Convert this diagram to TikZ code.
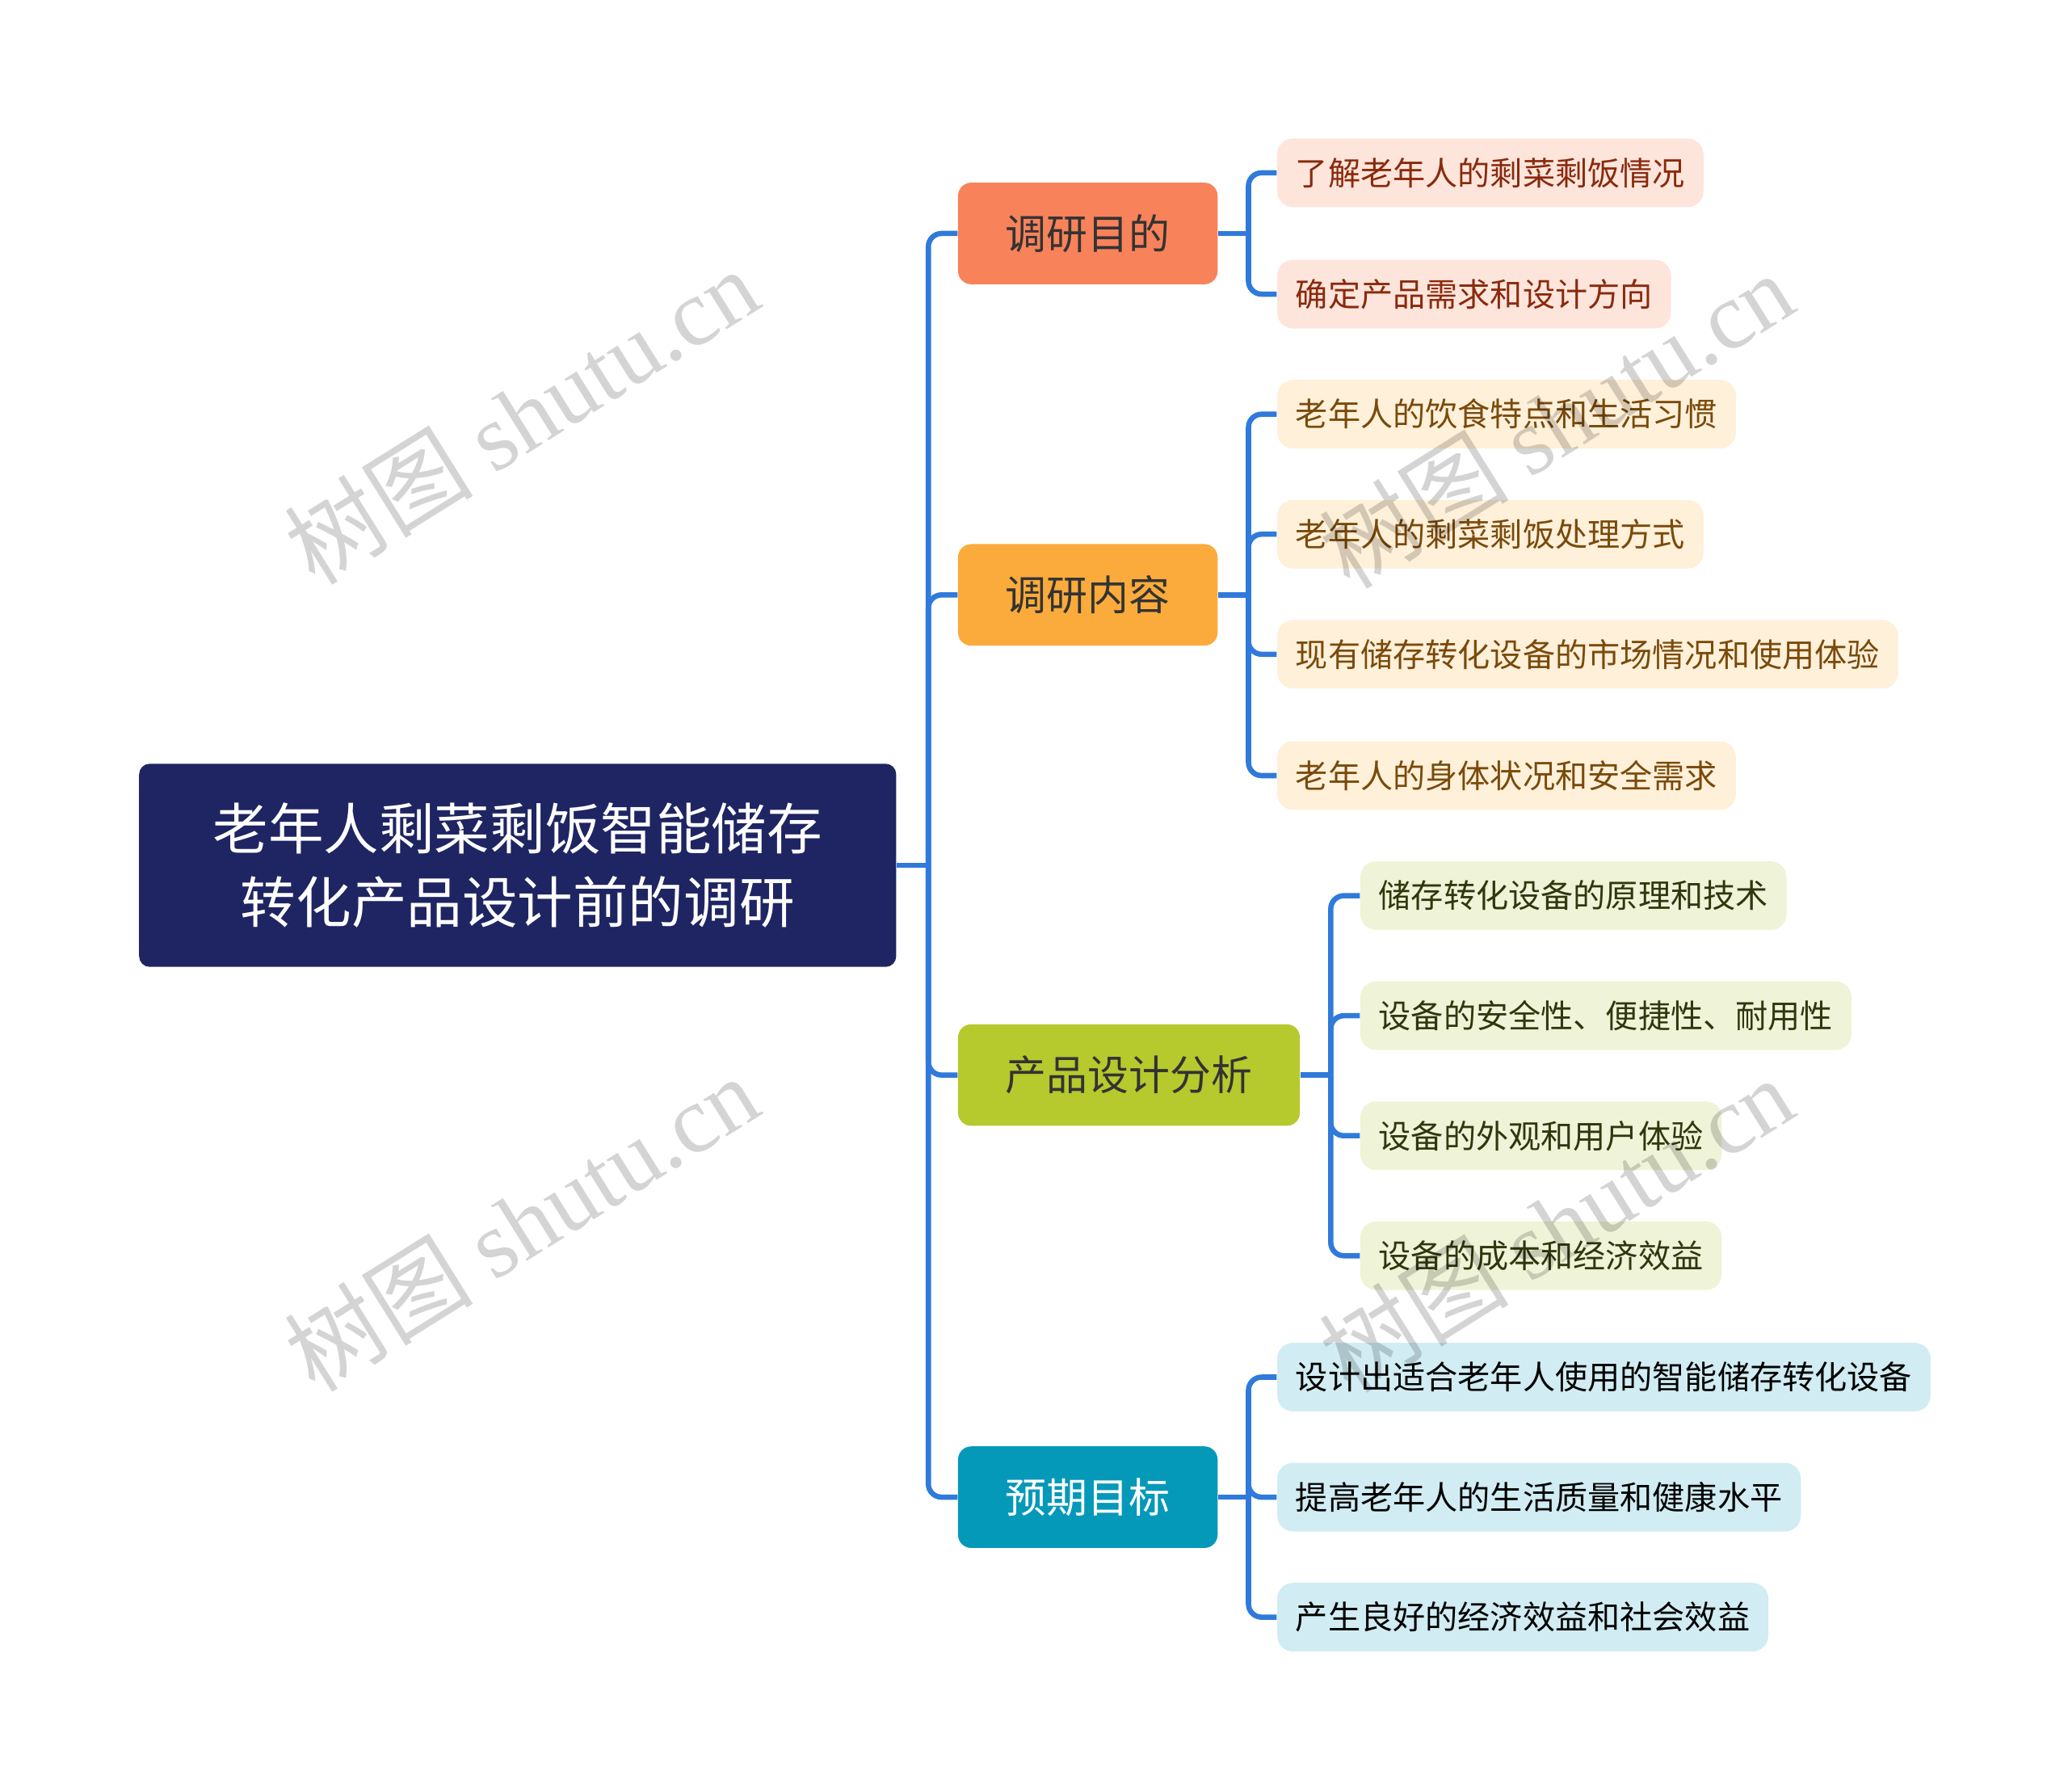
\documentclass[tikz,border=0pt]{standalone}
\usepackage{fontspec}
\usepackage{xcolor}
\setmainfont{Noto Sans CJK SC}
\newfontfamily\wmlatin{Liberation Serif}
\usetikzlibrary{positioning}

\definecolor{rootbg}{HTML}{1F2562}
\definecolor{linkblue}{HTML}{2F7ADA}
\definecolor{purposebg}{HTML}{F8825A}
\definecolor{contentbg}{HTML}{FBAB3B}
\definecolor{analysisbg}{HTML}{B6C92D}
\definecolor{goalbg}{HTML}{0599B9}
\definecolor{purposeleaf}{HTML}{FDE5DC}
\definecolor{contentleaf}{HTML}{FEF0D9}
\definecolor{analysisleaf}{HTML}{EFF3D8}
\definecolor{goalleaf}{HTML}{D1ECF3}
\definecolor{purposetext}{HTML}{8A2A0D}
\definecolor{contenttext}{HTML}{7A4A0B}
\definecolor{analysistext}{HTML}{30360E}

\begin{document}
\begin{tikzpicture}[x=0.5pt,y=-0.5pt,
    rootbox/.style={fill=rootbg,text=white,rounded corners=4pt,minimum height=77pt,
      inner xsep=28pt,align=center,font=\fontsize{21pt}{28pt}\selectfont},
    topic/.style={anchor=west,rounded corners=5pt,minimum height=38.5pt,inner xsep=18pt,
      text=black!80,font=\fontsize{15.6pt}{18pt}\selectfont},
    leaf/.style={anchor=west,rounded corners=6pt,minimum height=26pt,inner xsep=7pt,
      font=\fontsize{12.3pt}{15pt}\selectfont},
    link/.style={draw=linkblue,line width=2pt,rounded corners=5pt},
    wmark/.style={rotate=32,text=black,opacity=0.17,font=\fontsize{36pt}{38pt}\selectfont}]
  \useasboundingbox (0,0) rectangle (1568,1358);

  % root
  \node[rootbox] (root) at (392.5,656) {老年人剩菜剩饭智能储存\\转化产品设计前的调研};

  % main topics
  \node[topic,fill=purposebg] (purpose) at (726,177) {调研目的};
  \node[topic,fill=contentbg] (content) at (726,451) {调研内容};
  \node[topic,fill=analysisbg] (analysis) at (726,815) {产品设计分析};
  \node[topic,fill=goalbg,text=white] (goal) at (726,1135) {预期目标};

  % leaves
  \node[leaf,fill=purposeleaf,text=purposetext] (p1) at (968,131) {了解老年人的剩菜剩饭情况};
  \node[leaf,fill=purposeleaf,text=purposetext] (p2) at (968,223) {确定产品需求和设计方向};

  \node[leaf,fill=contentleaf,text=contenttext] (c1) at (968,314) {老年人的饮食特点和生活习惯};
  \node[leaf,fill=contentleaf,text=contenttext] (c2) at (968,405) {老年人的剩菜剩饭处理方式};
  \node[leaf,fill=contentleaf,text=contenttext] (c3) at (968,496) {现有储存转化设备的市场情况和使用体验};
  \node[leaf,fill=contentleaf,text=contenttext] (c4) at (968,588) {老年人的身体状况和安全需求};

  \node[leaf,fill=analysisleaf,text=analysistext] (a1) at (1031,679) {储存转化设备的原理和技术};
  \node[leaf,fill=analysisleaf,text=analysistext] (a2) at (1031,770) {设备的安全性、便捷性、耐用性};
  \node[leaf,fill=analysisleaf,text=analysistext] (a3) at (1031,861) {设备的外观和用户体验};
  \node[leaf,fill=analysisleaf,text=analysistext] (a4) at (1031,952) {设备的成本和经济效益};

  \node[leaf,fill=goalleaf,text=black] (g1) at (968,1044) {设计出适合老年人使用的智能储存转化设备};
  \node[leaf,fill=goalleaf,text=black] (g2) at (968,1135) {提高老年人的生活质量和健康水平};
  \node[leaf,fill=goalleaf,text=black] (g3) at (968,1226) {产生良好的经济效益和社会效益};

  % connectors
  \coordinate (trunk) at ([xshift=12pt]root.east);
  \draw[link] (root.east) -- (trunk);
  \foreach \t in {purpose,content,analysis,goal}
    \draw[link] (trunk) |- (\t.west);
  \foreach \t/\kids in {purpose/{p1,p2},content/{c1,c2,c3,c4},analysis/{a1,a2,a3,a4},goal/{g1,g2,g3}}{
    \coordinate (\t-fork) at ([xshift=11.5pt]\t.east);
    \draw[link] (\t.east) -- (\t-fork);
    \foreach \k in \kids
      \draw[link] (\t-fork) |- (\k.west);
  }

  % watermarks
  \node[wmark] (wm1) at (395,315) {树图 {\wmlatin shutu.cn}};
  \node[wmark] (wm2) at (1180,318) {树图 {\wmlatin shutu.cn}};
  \node[wmark] (wm3) at (395,927) {树图 {\wmlatin shutu.cn}};
  \node[wmark] (wm4) at (1180,928) {树图 {\wmlatin shutu.cn}};
\end{tikzpicture}
\end{document}
